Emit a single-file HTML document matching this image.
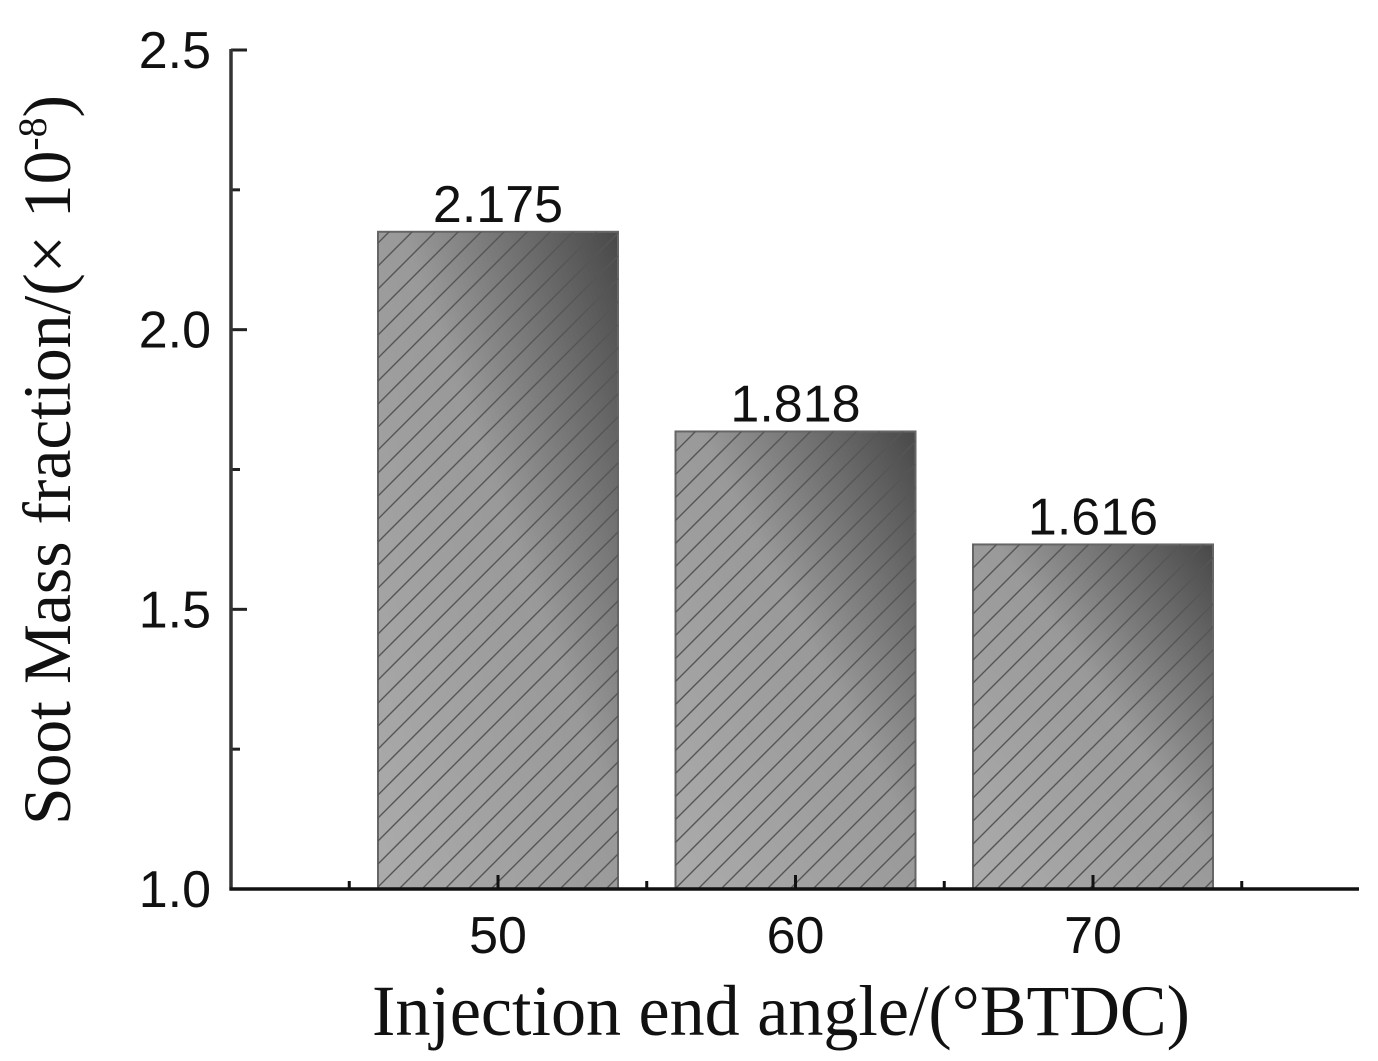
<!DOCTYPE html>
<html><head><meta charset="utf-8"><style>
html,body{margin:0;padding:0;background:#fff;}
svg{display:block;}
</style></head><body>
<svg id="chart" width="1378" height="1061" viewBox="0 0 1378 1061" xmlns="http://www.w3.org/2000/svg">
<defs>
<linearGradient id="barGrad" x1="0" y1="1" x2="1" y2="0">
<stop offset="0" stop-color="#ababab"/>
<stop offset="0.55" stop-color="#999"/>
<stop offset="1" stop-color="#484848"/>
</linearGradient>
<pattern id="hatch" patternUnits="userSpaceOnUse" width="23" height="23">
<path d="M-2,25 L25,-2 M-2,2 L2,-2 M21,25 L25,21" stroke="#555" stroke-width="1.4" fill="none"/>
</pattern>
</defs>
<g id="bars"></g>
<g id="axes"></g>
<text x="372" y="1035" font-family="Liberation Serif, serif" font-size="72" textLength="818" lengthAdjust="spacingAndGlyphs" fill="#111">Injection end angle/(°BTDC)</text>
<text transform="translate(70,825) rotate(-90)" font-family="Liberation Serif, serif" font-size="68" textLength="730" lengthAdjust="spacingAndGlyphs" fill="#111">Soot Mass fraction/(× 10<tspan font-size="40" dy="-24">-8</tspan><tspan dy="24">)</tspan></text>
</svg>
<script>
const categories = ["50", "60", "70"];
const values = [2.175, 1.818, 1.616];
const valueLabels = ["2.175", "1.818", "1.616"];
const yTicks = [1.0, 1.5, 2.0, 2.5];
const yTickLabels = ["1.0", "1.5", "2.0", "2.5"];

const NS = "http://www.w3.org/2000/svg";
const x0 = 231, xEnd = 1359, y0 = 889, yTop = 50;
const yMin = 1.0, yMax = 2.5;
function yScale(v){ return y0 - (v - yMin) / (yMax - yMin) * (y0 - yTop); }
const step = 297.5, firstCenter = 498;
function xScale(i){ return firstCenter + i * step; }
const barW = 240;

function mk(tag, attrs, parent){
  const el = document.createElementNS(NS, tag);
  for (const k in attrs) el.setAttribute(k, attrs[k]);
  parent.appendChild(el);
  return el;
}
const bars = document.getElementById('bars');
const axes = document.getElementById('axes');

values.forEach((v, i) => {
  const cx = xScale(i), yt = yScale(v);
  const r = mk('rect', {x: cx - barW/2, y: yt, width: barW, height: y0 - yt, fill: 'url(#barGrad)', stroke: '#666', 'stroke-width': 2}, bars);
  
  
  const h = mk('rect', {x: cx - barW/2, y: yt, width: barW, height: y0 - yt, fill: 'url(#hatch)'}, bars);
  
  
  const t = mk('text', {x: cx, y: yt - 10, 'text-anchor': 'middle', 'font-family': 'Liberation Sans, sans-serif', 'font-size': 52, fill: '#111'}, bars);
  t.textContent = valueLabels[i];
  
  
  const xl = mk('text', {x: cx, y: 953, 'text-anchor': 'middle', 'font-family': 'Liberation Sans, sans-serif', 'font-size': 52, fill: '#111'}, axes);
  xl.textContent = categories[i];
  
  
  const tk = mk('line', {x1: cx, x2: cx, y1: y0, y2: y0 - 14, stroke: '#111', 'stroke-width': 3}, axes);
  
  
});
for (let i = -1; i < categories.length; i++) {
  const mx = xScale(i) + step/2;
  const m = mk('line', {x1: mx, x2: mx, y1: y0, y2: y0 - 8, stroke: '#111', 'stroke-width': 3}, axes);
  
  
}
yTicks.forEach((v, i) => {
  const y = yScale(v);
  const l = mk('line', {x1: x0, x2: x0 + 16, y1: y, y2: y, stroke: '#222', 'stroke-width': 3}, axes);
  
  
  const t = mk('text', {x: 211, y: y + 18, 'text-anchor': 'end', 'font-family': 'Liberation Sans, sans-serif', 'font-size': 52, fill: '#111'}, axes);
  t.textContent = yTickLabels[i];
  
  
  if (i < yTicks.length - 1) {
    const ym = yScale(v + 0.25);
    const m = mk('line', {x1: x0, x2: x0 + 9, y1: ym, y2: ym, stroke: '#222', 'stroke-width': 3}, axes);
    
    
  }
});
const ya = mk('line', {x1: x0, x2: x0, y1: yTop - 1, y2: y0 + 1.5, stroke: '#333', 'stroke-width': 3.5}, axes);


const xa = mk('line', {x1: x0 - 1.5, x2: xEnd, y1: y0, y2: y0, stroke: '#111', 'stroke-width': 3.5}, axes);


</script>
</body></html>
